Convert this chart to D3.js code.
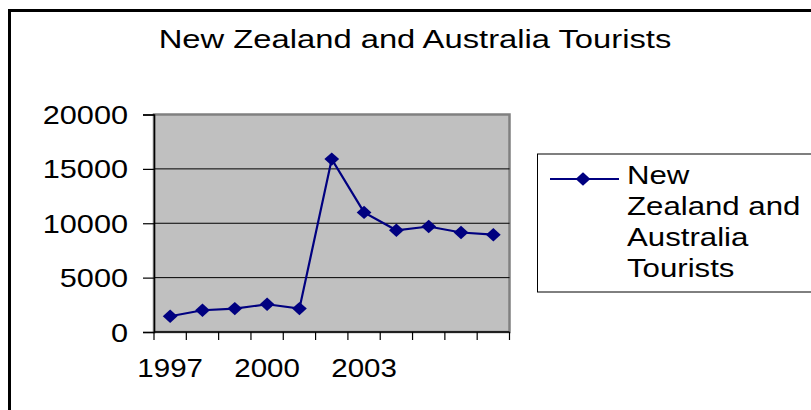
<!DOCTYPE html>
<html>
<head>
<meta charset="utf-8">
<script src="https://cdn.jsdelivr.net/npm/d3@7"></script>
<style>
  body { margin: 0; background: #fff; }
  text { font-family: "Liberation Sans", Arial, sans-serif; fill: #000; }
</style>
</head>
<body>
<div id="chart"></div>
<script>
// data
const years = ["1997", "1998", "1999", "2000", "2001", "2002", "2003", "2004", "2005", "2006", "2007"];
const tourists = [1450, 2000, 2150, 2550, 2150, 15900, 11000, 9350, 9700, 9150, 8950];
const yTicks = [0, 5000, 10000, 15000, 20000];
const xLabelYears = ["1997", "2000", "2003"];
const seriesName = "New Zealand and Australia Tourists";
const legendLines = ["New", "Zealand and", "Australia", "Tourists"];

const W = 811, H = 410;
const plot = { left: 154, right: 509.5, top: 114.5, bottom: 332 };
const navy = "#000080";

const svg = d3.select("#chart").append("svg")
    .attr("width", W)
    .attr("height", H);

// outer chart frame (runs off right and bottom edge)
svg.append("rect")
    .attr("x", 9.5).attr("y", 10.5)
    .attr("width", W + 20).attr("height", H + 20)
    .attr("fill", "none")
    .attr("stroke", "#000")
    .attr("stroke-width", 3);

// title
svg.append("text")
    .attr("transform", `translate(415,47.5) scale(1.31,1)`)
    .attr("text-anchor", "middle")
    .style("font-size", "25px")
    .text(seriesName);

// scales
const x = d3.scaleBand()
    .domain(years)
    .range([plot.left, plot.right]);

const y = d3.scaleLinear()
    .domain([0, 20000])
    .range([plot.bottom, plot.top]);

// plot area
svg.append("rect")
    .attr("x", plot.left).attr("y", plot.top)
    .attr("width", plot.right - plot.left)
    .attr("height", plot.bottom - plot.top)
    .attr("fill", "#c0c0c0")
    .attr("stroke", "#808080")
    .attr("stroke-width", 2.5);

// gridlines
svg.selectAll(".grid")
    .data(yTicks.filter(d => d > 0 && d < 20000))
    .enter()
    .append("line")
    .attr("x1", plot.left).attr("x2", plot.right)
    .attr("y1", d => y(d)).attr("y2", d => y(d))
    .attr("stroke", "#000")
    .attr("stroke-width", 1);

// y axis
const yAxis = svg.append("g")
    .attr("transform", `translate(${plot.left},0)`)
    .call(d3.axisLeft(y).tickValues(yTicks).tickSize(11).tickPadding(15).tickFormat(d3.format("d")));
yAxis.select(".domain").attr("stroke", "#000").attr("stroke-width", 1.5);
yAxis.selectAll(".tick line").attr("stroke", "#000").attr("stroke-width", 1.2);
yAxis.selectAll(".tick text")
    .attr("x", null).attr("dy", null)
    .attr("transform", "translate(-26,9) scale(1.18,1)")
    .style("font-size", "26px")
    .style("font-family", "Liberation Sans, Arial, sans-serif");

// x axis: ticks on band boundaries
const bounds = years.map(d => x(d)).concat([plot.right]);
svg.append("line")
    .attr("x1", plot.left).attr("x2", plot.right)
    .attr("y1", plot.bottom).attr("y2", plot.bottom)
    .attr("stroke", "#000").attr("stroke-width", 1.5);
svg.selectAll(".xtick")
    .data(bounds)
    .enter()
    .append("line")
    .attr("x1", d => d).attr("x2", d => d)
    .attr("y1", plot.bottom).attr("y2", plot.bottom + 8)
    .attr("stroke", "#000").attr("stroke-width", 1.2);
svg.selectAll(".xlabel")
    .data(xLabelYears)
    .enter()
    .append("text")
    .attr("transform", d => `translate(${x(d) + x.bandwidth() / 2},377) scale(1.18,1)`)
    .attr("text-anchor", "middle")
    .style("font-size", "25px")
    .text(d => d);

// line
const line = d3.line()
    .x((d, i) => x(years[i]) + x.bandwidth() / 2)
    .y(d => y(d));

svg.append("path")
    .datum(tourists)
    .attr("d", line)
    .attr("fill", "none")
    .attr("stroke", navy)
    .attr("stroke-width", 2.2);

// diamond markers
const diamond = d3.symbol().type(d3.symbolSquare).size(90)();
svg.selectAll(".marker")
    .data(tourists)
    .enter()
    .append("path")
    .attr("d", diamond)
    .attr("transform", (d, i) => `translate(${x(years[i]) + x.bandwidth() / 2},${y(d)}) scale(1.1,1) rotate(45)`)
    .attr("fill", navy);

// legend
const legend = svg.append("g");
legend.append("rect")
    .attr("x", 537.5).attr("y", 154)
    .attr("width", 300).attr("height", 138)
    .attr("fill", "#fff")
    .attr("stroke", "#000")
    .attr("stroke-width", 1);
legend.append("line")
    .attr("x1", 550).attr("x2", 619)
    .attr("y1", 179).attr("y2", 179)
    .attr("stroke", navy).attr("stroke-width", 2);
legend.append("path")
    .attr("d", diamond)
    .attr("transform", "translate(583,179) scale(1.1,1) rotate(45)")
    .attr("fill", navy);
legend.selectAll(".leg")
    .data(legendLines)
    .enter()
    .append("text")
    .attr("transform", (d, i) => `translate(627,${184 + i * 31}) scale(1.2,1)`)
    .style("font-size", "26px")
    .text(d => d);
</script>
</body>
</html>
